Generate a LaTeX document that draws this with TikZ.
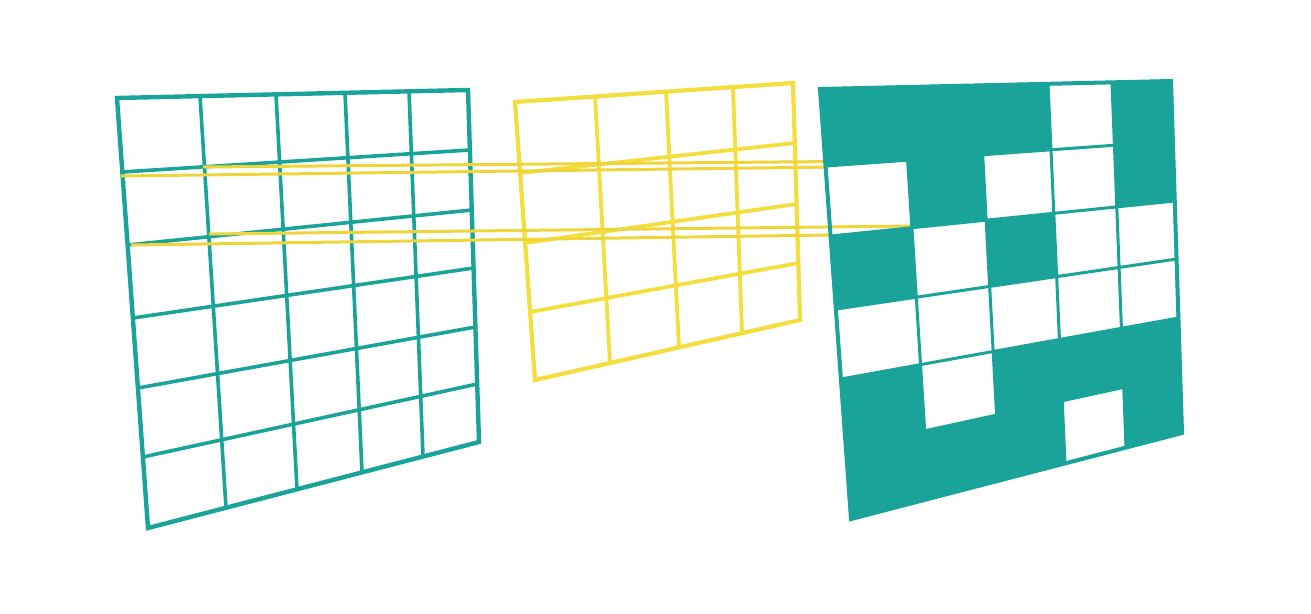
\documentclass[tikz,border=0pt]{standalone}
\usetikzlibrary{calc}
\definecolor{tealc}{RGB}{26,163,152}
\definecolor{yelk}{RGB}{244,222,62}
\definecolor{yell}{RGB}{238,214,58}
\begin{document}
\begin{tikzpicture}[x=1pt,y=-1pt,
  tgrid/.style={draw=tealc, line width=3.6pt},
  tborder/.style={draw=tealc, line width=4.4pt, line join=miter},
  kgrid/.style={draw=yelk, line width=3.8pt},
  kborder/.style={draw=yelk, line width=4.2pt, line join=miter},
  link/.style={draw=yell, line width=3pt},
  panel/.style={fill=tealc, draw=tealc, line width=3pt, even odd rule, line join=round}]
\useasboundingbox (0,0) rectangle (1311,613);

% ---------- left input grid (5 x 6) ----------
\coordinate (T0) at (117,98);
\coordinate (T1) at (200,96.1);
\coordinate (T2) at (276,94.4);
\coordinate (T3) at (345,92.8);
\coordinate (T4) at (409,91.3);
\coordinate (T5) at (468,90);
\coordinate (B0) at (148,528);
\coordinate (B1) at (226,507.7);
\coordinate (B2) at (297,489.3);
\coordinate (B3) at (362,472.4);
\coordinate (B4) at (423,456.5);
\coordinate (B5) at (479,442);
\coordinate (L0) at (117,98);
\coordinate (L1) at (122.3,172);
\coordinate (L2) at (127.6,245);
\coordinate (L3) at (132.9,318);
\coordinate (L4) at (137.9,388);
\coordinate (L5) at (142.9,457);
\coordinate (L6) at (148,528);
\coordinate (R0) at (468,90);
\coordinate (R1) at (469.9,150);
\coordinate (R2) at (471.8,210);
\coordinate (R3) at (473.6,268);
\coordinate (R4) at (475.4,327);
\coordinate (R5) at (477.2,384);
\coordinate (R6) at (479,442);

\foreach \i in {1,...,4} \draw[tgrid] (T\i) -- (B\i);
\foreach \j in {1,...,5} \draw[tgrid] (L\j) -- (R\j);
\draw[tborder] (T0) -- (T5) -- (B5) -- (B0) -- cycle;

% ---------- kernel grid (4 x 4) ----------
\coordinate (KT0) at (515,102);
\coordinate (KT1) at (595,96.5);
\coordinate (KT2) at (666,91.7);
\coordinate (KT3) at (733,87.1);
\coordinate (KT4) at (793,83);
\coordinate (KB0) at (535,380);
\coordinate (KB1) at (610,363);
\coordinate (KB2) at (679,347.4);
\coordinate (KB3) at (742,333.1);
\coordinate (KB4) at (800,320);
\coordinate (KL1) at (520.1,173);
\coordinate (KL2) at (525.1,243);
\coordinate (KL3) at (530.1,312);
\coordinate (KR1) at (794.8,143);
\coordinate (KR2) at (796.6,204);
\coordinate (KR3) at (798.3,263);

\foreach \i in {1,...,3} \draw[kgrid] (KT\i) -- (KB\i);
\foreach \j in {1,...,3} \draw[kgrid] (KL\j) -- (KR\j);
\draw[kborder] (KT0) -- (KT4) -- (KB4) -- (KB0) -- cycle;

% ---------- connecting lines ----------
\coordinate (s1) at (203,167);
\coordinate (e1) at (825,161.6);
\coordinate (s2) at (121,176);
\coordinate (e2) at (825,167.1);
\coordinate (s3) at (209,234);
\coordinate (e3) at (912,226);
\coordinate (s4) at (131,245);
\coordinate (e4) at (830,235);
\draw[link] (s1) -- (e1);
\draw[link] (s2) -- (e2);
\draw[link] (s3) -- (e3);
\draw[link] (s4) -- (e4);

% ---------- output panel ----------
\foreach \n in {0,...,5} {
  \coordinate (rT\n) at ($(T\n)+(703,-9)$);
  \coordinate (rB\n) at ($(B\n)+(703,-9)$);
}
\foreach \n in {0,...,6} {
  \coordinate (rL\n) at ($(L\n)+(703,-9)$);
  \coordinate (rR\n) at ($(R\n)+(703,-9)$);
}
\coordinate (rL1) at ($(L1)+(704,-6)$);
\foreach \i in {0,...,5} {
  \foreach \j in {0,...,6} {
    \coordinate (q\i-\j) at (intersection cs: first line={(rT\i)--(rB\i)}, second line={(rL\j)--(rR\j)});
  }
}
\filldraw[panel] (q0-0) -- (q5-0) -- (q5-6) -- (q0-6) -- cycle
  \foreach \c/\r/\cc/\rr in {3/0/4/1, 0/1/1/2, 2/1/3/2, 3/1/4/2,
      1/2/2/3, 3/2/4/3, 4/2/5/3,
      0/3/1/4, 1/3/2/4, 2/3/3/4, 3/3/4/4, 4/3/5/4,
      1/4/2/5, 3/5/4/6} {
    (q\c-\r) -- (q\cc-\r) -- (q\cc-\rr) -- (q\c-\rr) -- cycle
  };
\draw[draw=tealc, line width=4pt, line join=miter] (q0-0) -- (q5-0) -- (q5-6) -- (q0-6) -- cycle;
\end{tikzpicture}
\end{document}
